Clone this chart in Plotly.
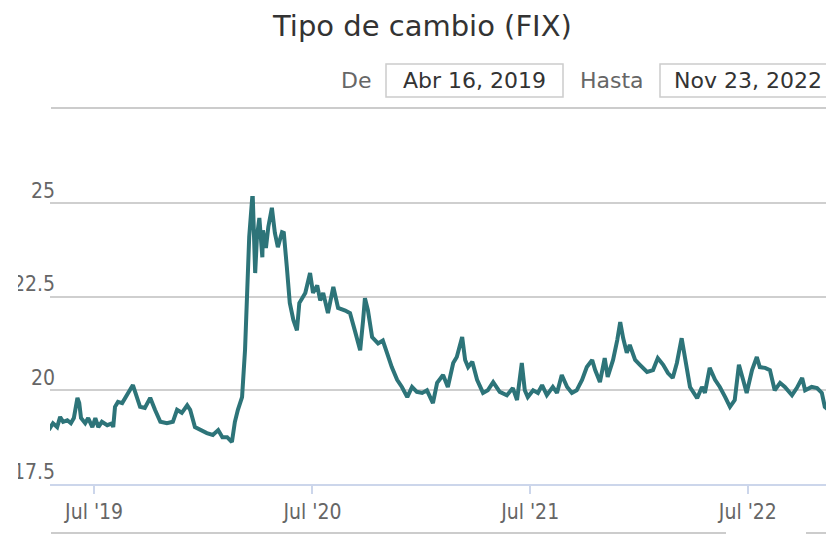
import plotly.graph_objects as go

dates = [
    "2019-04-16","2019-04-23","2019-04-30","2019-05-05","2019-05-10","2019-05-17","2019-05-23","2019-05-28",
    "2019-06-03","2019-06-06","2019-06-09","2019-06-16","2019-06-21","2019-06-28","2019-07-03","2019-07-08",
    "2019-07-14","2019-07-23","2019-07-31","2019-08-02","2019-08-05","2019-08-10","2019-08-17","2019-08-22",
    "2019-08-27","2019-09-04","2019-09-09","2019-09-16","2019-09-24","2019-10-03","2019-10-11","2019-10-20",
    "2019-10-31","2019-11-10","2019-11-17","2019-11-25","2019-12-04","2019-12-09","2019-12-17","2019-12-26",
    "2020-01-06","2020-01-16","2020-01-25","2020-02-01","2020-02-09","2020-02-17","2020-02-22","2020-02-27",
    "2020-03-05","2020-03-10","2020-03-13","2020-03-17","2020-03-22","2020-03-23","2020-03-27","2020-03-30",
    "2020-04-03","2020-04-08","2020-04-09","2020-04-14","2020-04-18","2020-04-24","2020-04-29","2020-05-04",
    "2020-05-11","2020-05-14","2020-05-19","2020-05-24","2020-05-30","2020-06-05","2020-06-09","2020-06-19",
    "2020-06-27","2020-07-02","2020-07-09","2020-07-14","2020-07-19","2020-07-27","2020-08-05","2020-08-13",
    "2020-08-25","2020-09-02","2020-09-10","2020-09-19","2020-09-24","2020-09-27","2020-10-02","2020-10-09",
    "2020-10-19","2020-10-27","2020-11-03","2020-11-11","2020-11-20","2020-11-28","2020-12-07","2020-12-15",
    "2020-12-23","2021-01-01","2021-01-09","2021-01-19","2021-01-26","2021-02-05","2021-02-13","2021-02-22",
    "2021-02-28","2021-03-09","2021-03-14","2021-03-19","2021-03-26","2021-04-03","2021-04-13","2021-04-21",
    "2021-04-30","2021-05-11","2021-05-23","2021-06-02","2021-06-09","2021-06-17","2021-06-22","2021-06-27",
    "2021-07-06","2021-07-14","2021-07-21","2021-07-29","2021-08-08","2021-08-15","2021-08-23","2021-09-01",
    "2021-09-09","2021-09-17","2021-09-26","2021-10-04","2021-10-13","2021-10-18","2021-10-26","2021-11-03",
    "2021-11-08","2021-11-17","2021-11-24","2021-11-29","2021-12-04","2021-12-10","2021-12-15","2021-12-24",
    "2022-01-01","2022-01-13","2022-01-23","2022-01-31","2022-02-09","2022-02-17","2022-02-25","2022-03-04",
    "2022-03-12","2022-03-18","2022-03-26","2022-04-07","2022-04-15","2022-04-20","2022-04-28","2022-05-07",
    "2022-05-15","2022-05-24","2022-06-01","2022-06-09","2022-06-16","2022-06-23","2022-06-29","2022-07-08",
    "2022-07-16","2022-07-21","2022-07-30","2022-08-07","2022-08-15","2022-08-24","2022-09-01","2022-09-13",
    "2022-09-21","2022-09-30","2022-10-05","2022-10-16","2022-10-25","2022-11-02","2022-11-07","2022-11-15",
    "2022-11-23",
]
values = [
    18.94,19.12,19.02,19.29,19.16,19.20,19.12,19.26,
    19.80,19.66,19.26,19.12,19.26,19.02,19.26,19.02,
    19.16,19.07,19.12,19.02,19.56,19.69,19.66,19.82,
    19.93,20.14,19.93,19.56,19.53,19.80,19.48,19.16,
    19.12,19.16,19.48,19.40,19.60,19.48,19.02,18.94,
    18.86,18.81,18.94,18.75,18.75,18.62,19.16,19.48,
    19.82,21.08,22.14,24.10,25.13,25.13,23.13,24.10,
    24.60,23.55,24.27,23.80,24.36,24.87,24.20,23.82,
    24.22,24.20,23.30,22.33,21.88,21.60,22.33,22.60,
    23.13,22.60,22.80,22.40,22.60,22.06,22.76,22.20,
    22.13,22.06,21.60,21.07,21.88,22.46,22.14,21.42,
    21.25,21.33,21.00,20.62,20.28,20.09,19.82,20.09,
    19.96,19.93,20.00,19.66,20.20,20.41,20.09,20.73,
    20.89,21.42,20.81,20.62,20.76,20.28,19.93,20.00,
    20.22,19.96,19.87,20.06,19.74,20.73,20.00,19.82,
    20.00,19.93,20.14,19.87,20.09,19.93,20.41,20.09,
    19.93,20.00,20.28,20.62,20.81,20.54,20.22,20.86,
    20.36,20.81,21.34,21.82,21.39,21.00,21.21,20.81,
    20.68,20.49,20.54,20.86,20.68,20.46,20.33,20.73,
    21.39,20.81,20.09,19.79,20.09,19.93,20.60,20.28,
    20.09,19.82,19.56,19.74,20.68,20.28,19.93,20.54,
    20.89,20.62,20.60,20.54,20.00,20.20,20.09,19.87,
    20.06,20.33,20.00,20.09,20.06,19.93,19.56,19.45,
    19.45,
]

y_ticks = [17.5, 20, 22.5, 25]
y_tick_labels = ["17.5", "20", "22.5", "25"]
x_ticks = ["2019-07-01", "2020-07-01", "2021-07-01", "2022-07-01"]
x_tick_labels = ["Jul '19", "Jul '20", "Jul '21", "Jul '22"]

title_text = "Tipo de cambio (FIX)"
from_label, from_date = "De", "Abr 16, 2019"
to_label, to_date = "Hasta", "Nov 23, 2022"

W, H = 826, 534
L, R, T, B = 50, 0, 120, 50
pw, ph = W - L - R, H - T - B


def px(x):
    return (x - L) / pw


def py(y):
    return (H - B - y) / ph


fig = go.Figure()
fig.add_trace(go.Scatter(
    x=dates, y=values, mode="lines",
    line=dict(color="#2d7479", width=4),
    hoverinfo="skip", showlegend=False,
))

axis_font = dict(family="DejaVu Sans Condensed", size=21, color="#666666")

fig.update_layout(
    width=W, height=H,
    margin=dict(l=L, r=R, t=T, b=B, pad=0),
    paper_bgcolor="white", plot_bgcolor="white",
    xaxis=dict(
        range=["2019-04-18", "2022-11-09"],
        tickvals=x_ticks, ticktext=x_tick_labels,
        showgrid=False, zeroline=False,
        showline=True, linecolor="#ccd6eb", linewidth=2,
        ticks="outside", ticklen=8, tickcolor="#ccd6eb", tickwidth=1.5,
        tickfont=axis_font,
    ),
    yaxis=dict(
        range=[17.5, 17.5 + ph / 37.47],
        tickvals=y_ticks, ticktext=y_tick_labels,
        showgrid=True, gridcolor="#cfcfcf", gridwidth=1.6,
        zeroline=False, showline=False, ticks="",
        tickfont=axis_font,
        ticklabelposition="outside top",
        ticklabelshift=2,
        ticklabelstandoff=-6,
    ),
)

shapes = []
shapes.append(dict(type="line", xref="paper", yref="paper",
                   x0=px(51), x1=px(826), y0=py(108), y1=py(108),
                   line=dict(color="#cccccc", width=2)))
shapes.append(dict(type="line", xref="paper", yref="paper",
                   x0=px(51), x1=px(726), y0=py(533), y1=py(533),
                   line=dict(color="#cccccc", width=2)))
shapes.append(dict(type="line", xref="paper", yref="paper",
                   x0=px(806), x1=px(826), y0=py(533), y1=py(533),
                   line=dict(color="#cccccc", width=2)))
shapes.append(dict(type="rect", xref="paper", yref="paper",
                   x0=px(386), x1=px(563), y0=py(97), y1=py(64),
                   line=dict(color="#cccccc", width=1.5), fillcolor="white"))
shapes.append(dict(type="rect", xref="paper", yref="paper",
                   x0=px(660), x1=px(836), y0=py(97), y1=py(64),
                   line=dict(color="#cccccc", width=1.5), fillcolor="white"))
shapes.append(dict(type="rect", xref="paper", yref="paper", layer="above",
                   x0=px(0), x1=px(18), y0=py(540), y1=py(0),
                   line=dict(width=0), fillcolor="white"))
fig.update_layout(shapes=shapes)

ann = []
ann.append(dict(text=title_text, xref="paper", yref="paper", x=px(421.5), y=py(26),
                xanchor="center", yanchor="middle", showarrow=False,
                font=dict(family="DejaVu Sans", size=29, color="#333333")))
ann.append(dict(text=from_label, xref="paper", yref="paper", x=px(373), y=py(81),
                xanchor="right", yanchor="middle", showarrow=False,
                font=dict(family="DejaVu Sans", size=22, color="#666666")))
ann.append(dict(text=from_date, xref="paper", yref="paper", x=px(474.5), y=py(81),
                xanchor="center", yanchor="middle", showarrow=False,
                font=dict(family="DejaVu Sans", size=22, color="#333333")))
ann.append(dict(text=to_label, xref="paper", yref="paper", x=px(646), y=py(81),
                xanchor="right", yanchor="middle", showarrow=False,
                font=dict(family="DejaVu Sans", size=22, color="#666666")))
ann.append(dict(text=to_date, xref="paper", yref="paper", x=px(672), y=py(81),
                xanchor="left", yanchor="middle", showarrow=False,
                font=dict(family="DejaVu Sans", size=22, color="#333333")))
fig.update_layout(annotations=ann)

# remove the default 8px page margin so the figure sits at the window's corner
fig.write_html("out.html", config={"displayModeBar": False},
               post_script="document.body.style.margin='0px';")
